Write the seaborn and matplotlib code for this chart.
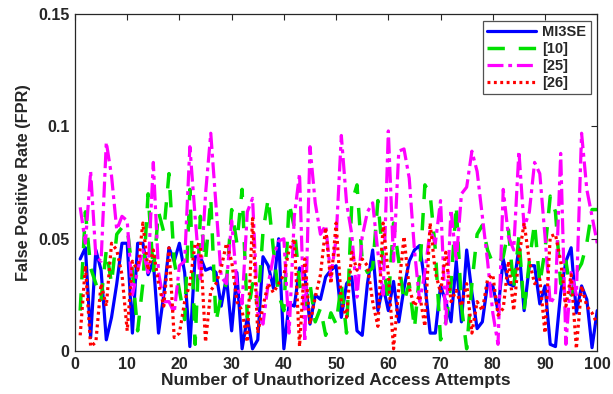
import numpy as np
import pandas as pd
import matplotlib
matplotlib.use("Agg")
import matplotlib.pyplot as plt
import seaborn as sns

attempts = list(range(1, 101))

mi3se = [0.041, 0.046, 0.006, 0.045, 0.036, 0.005, 0.015, 0.030, 0.048, 0.048,
         0.008, 0.048, 0.048, 0.034, 0.040, 0.008, 0.025, 0.046, 0.040, 0.048,
         0.035, 0.002, 0.042, 0.042, 0.036, 0.037, 0.035, 0.020, 0.033, 0.009,
         0.035, 0.001, 0.015, 0.001, 0.005, 0.042, 0.038, 0.028, 0.050, 0.001,
         0.021, 0.020, 0.037, 0.034, 0.012, 0.025, 0.023, 0.033, 0.036, 0.038,
         0.015, 0.030, 0.033, 0.009, 0.007, 0.030, 0.045, 0.018, 0.029, 0.018,
         0.031, 0.013, 0.028, 0.040, 0.045, 0.047, 0.030, 0.008, 0.008, 0.029,
         0.022, 0.013, 0.040, 0.013, 0.045, 0.026, 0.010, 0.013, 0.030, 0.029,
         0.018, 0.041, 0.030, 0.029, 0.046, 0.018, 0.038, 0.038, 0.021, 0.029,
         0.003, 0.002, 0.026, 0.040, 0.046, 0.017, 0.029, 0.023, 0.0015, 0.018]

ref10 = [0.018, 0.062, 0.037, 0.030, 0.023, 0.045, 0.030, 0.052, 0.055, 0.055,
         0.035, 0.009, 0.030, 0.070, 0.035, 0.062, 0.053, 0.079, 0.040, 0.027,
         0.014, 0.072, 0.003, 0.060, 0.040, 0.068, 0.013, 0.025, 0.030, 0.063,
         0.048, 0.072, 0.015, 0.030, 0.020, 0.053, 0.068, 0.045, 0.025, 0.018,
         0.066, 0.055, 0.030, 0.020, 0.030, 0.013, 0.019, 0.007, 0.017, 0.012,
         0.030, 0.008, 0.066, 0.074, 0.040, 0.035, 0.037, 0.067, 0.040, 0.022,
         0.057, 0.040, 0.022, 0.030, 0.010, 0.035, 0.074, 0.070, 0.045, 0.005,
         0.013, 0.030, 0.065, 0.020, 0.001, 0.030, 0.052, 0.056, 0.045, 0.039,
         0.039, 0.042, 0.054, 0.028, 0.051, 0.018, 0.040, 0.057, 0.030, 0.045,
         0.069, 0.062, 0.030, 0.040, 0.025, 0.035, 0.039, 0.048, 0.063, 0.063]

ref25 = [0.064, 0.048, 0.080, 0.042, 0.040, 0.093, 0.078, 0.054, 0.060, 0.058,
         0.025, 0.036, 0.045, 0.035, 0.084, 0.035, 0.022, 0.022, 0.017, 0.038,
         0.040, 0.091, 0.060, 0.031, 0.070, 0.097, 0.065, 0.033, 0.030, 0.058,
         0.030, 0.021, 0.062, 0.068, 0.017, 0.012, 0.030, 0.042, 0.049, 0.050,
         0.008, 0.060, 0.079, 0.004, 0.091, 0.066, 0.052, 0.056, 0.033, 0.050,
         0.096, 0.066, 0.052, 0.024, 0.051, 0.062, 0.066, 0.044, 0.025, 0.098,
         0.040, 0.089, 0.090, 0.077, 0.045, 0.022, 0.035, 0.054, 0.048, 0.067,
         0.012, 0.063, 0.040, 0.070, 0.073, 0.089, 0.080, 0.060, 0.040, 0.017,
         0.003, 0.072, 0.051, 0.045, 0.089, 0.055, 0.062, 0.084, 0.079, 0.051,
         0.021, 0.025, 0.088, 0.003, 0.035, 0.025, 0.097, 0.072, 0.060, 0.048]

ref26 = [0.007, 0.038, 0.002, 0.004, 0.030, 0.020, 0.048, 0.045, 0.034, 0.009,
         0.040, 0.036, 0.057, 0.036, 0.045, 0.030, 0.020, 0.046, 0.006, 0.008,
         0.022, 0.030, 0.048, 0.047, 0.004, 0.027, 0.030, 0.037, 0.048, 0.040,
         0.022, 0.018, 0.004, 0.059, 0.008, 0.020, 0.030, 0.026, 0.030, 0.034,
         0.045, 0.050, 0.002, 0.041, 0.012, 0.024, 0.034, 0.055, 0.030, 0.057,
         0.022, 0.015, 0.044, 0.036, 0.041, 0.038, 0.022, 0.011, 0.057, 0.034,
         0.001, 0.028, 0.051, 0.028, 0.020, 0.025, 0.011, 0.057, 0.035, 0.026,
         0.044, 0.022, 0.027, 0.020, 0.030, 0.008, 0.022, 0.018, 0.032, 0.034,
         0.016, 0.019, 0.040, 0.018, 0.042, 0.057, 0.040, 0.030, 0.032, 0.008,
         0.051, 0.052, 0.040, 0.020, 0.034, 0.001, 0.029, 0.020, 0.017, 0.012]

series_names = ["MI3SE", "[10]", "[25]", "[26]"]
x_ticks = [0, 10, 20, 30, 40, 50, 60, 70, 80, 90, 100]
y_ticks = [0, 0.05, 0.1, 0.15]
y_tick_labels = ["0", "0.05", "0.1", "0.15"]

sns.set_style("white")
plt.rcParams["font.family"] = ["Liberation Sans", "DejaVu Sans"]
plt.rcParams["font.weight"] = "bold"

fig = plt.figure(figsize=(6.13, 3.94), dpi=100)
ax = fig.add_axes([0.1223, 0.109, 0.852, 0.855])

styles = [
    dict(color="#0000ff", linestyle="-", lw=2.3),
    dict(color="#00e000", linestyle=(0, (5, 4)), lw=2.5),
    dict(color="#ff00ff", linestyle=(0, (5, 1.5, 1.2, 1.5)), lw=2.3),
    dict(color="#ff0000", linestyle=(0, (0.9, 1.1)), lw=2.3),
]
data = [mi3se, ref10, ref25, ref26]
for name, vals, st in zip(series_names, data, styles):
    df = pd.DataFrame({"x": attempts, "y": vals})
    sns.lineplot(data=df, x="x", y="y", ax=ax, label=name, **st)

ax.set_xlim(0, 100)
ax.set_ylim(0, 0.15)
ax.set_xticks(x_ticks)
ax.set_yticks(y_ticks)
ax.set_yticklabels(y_tick_labels)
ax.tick_params(direction="in", length=4, width=0.8, top=True, right=True,
               labelsize=11.5, colors="#262626", pad=4)
for lab in ax.get_xticklabels() + ax.get_yticklabels():
    lab.set_fontweight("bold")
for s in ax.spines.values():
    s.set_visible(True)
    s.set_color("#262626")
    s.set_linewidth(0.9)
ax.set_xlabel("Number of Unauthorized Access Attempts", fontsize=12.6,
              fontweight="bold", color="#262626", labelpad=1)
ax.set_ylabel("False Positive Rate (FPR)", fontsize=11.8,
              fontweight="bold", color="#262626", labelpad=5)

leg = ax.legend(loc="upper right", frameon=True, fancybox=False,
                prop={"weight": "bold", "size": 10.5}, handlelength=3.4,
                borderpad=0.3, labelspacing=0.2, handletextpad=0.4,
                borderaxespad=0.45)
leg.get_frame().set_edgecolor("#262626")
leg.get_frame().set_linewidth(0.9)

fig.savefig("out.png", dpi=100)
